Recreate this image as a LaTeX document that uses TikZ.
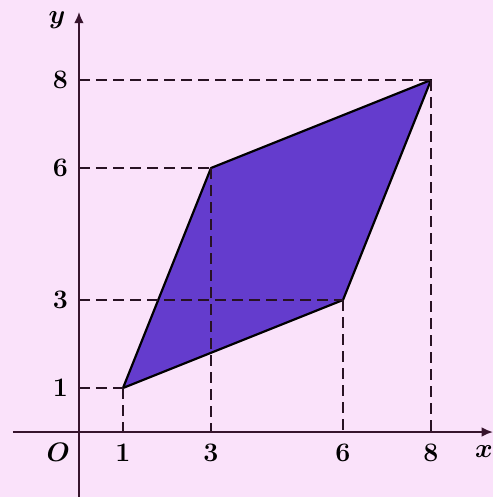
\documentclass[tikz,border=0pt]{standalone}
\usepackage{xcolor}
\usepackage{amsmath}
\usepackage{amssymb}
\usepackage{tikz}
\usetikzlibrary{arrows.meta,calc,positioning}
\definecolor{bgcolor}{RGB}{250,226,250}
\definecolor{fillcolor}{RGB}{100,60,205}
\definecolor{axiscolor}{RGB}{55,20,45}
\definecolor{guidecolor}{RGB}{40,18,35}

\begin{document}
\begin{tikzpicture}[
        axisline/.style={axiscolor, line width=1.3pt, -{Latex[length=2.6mm,width=2.2mm]}},
        guide/.style={guidecolor, line width=1.5pt, dash pattern=on 7pt off 4pt},
        quadfill/.style={fill=fillcolor, draw=black, line width=1.4pt, line join=round},
        ticklabel/.style={font=\bfseries\LARGE, inner sep=1pt}
    ]
        % fond et cadre
        \fill[bgcolor] (-1.795,-1.477) rectangle (9.41,9.818);
        \useasboundingbox (-1.795,-1.477) rectangle (9.41,9.818);

        % sommets
        \coordinate (O) at (0,0);
        \coordinate (A) at (1,1);
        \coordinate (B) at (3,6);
        \coordinate (C) at (8,8);
        \coordinate (D) at (6,3);

        \draw[quadfill] (A) -- (B) -- (C) -- (D) -- cycle;

        % lignes de rappel
        \foreach \p/\px/\py in {A/1/1, B/3/6, C/8/8, D/6/3} {
            \draw[guide] (0,\py) -- (\p);
            \draw[guide] (\p) -- (\px,0);
        }

        % axes
        \draw[axisline] (-1.5,0) -- (9.41,0);
        \draw[axisline] (0,-1.6) -- (0,9.55);
        \node[ticklabel] (ylab) at (-0.5,9.36) {$\boldsymbol{y}$};
        \node[ticklabel] (xlab) at (9.2,-0.45) {$\boldsymbol{x}$};
        \node[ticklabel] (olab) at (-0.47,-0.47) {$\boldsymbol{O}$};

        \foreach \v in {1,3,6,8} {
            \node[ticklabel] (x\v) at (\v,-0.47) {\v};
        }
        \foreach \v in {1,3,6,8} {
            \node[ticklabel] (y\v) at (-0.42,\v) {\v};
        }
    \end{tikzpicture}
\end{document}
